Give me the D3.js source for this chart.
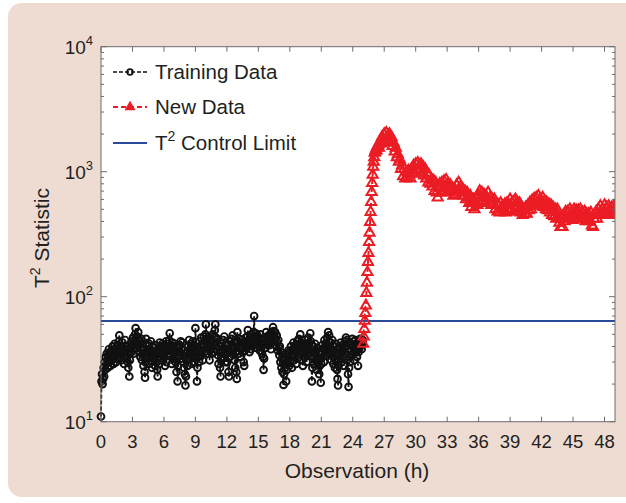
<!DOCTYPE html>
<html>
<head>
<meta charset="utf-8">
<script src="https://cdn.jsdelivr.net/npm/d3@7"></script>
<style>
body { margin: 0; background: #fff; }
text { font-family: "Liberation Sans", Arial, sans-serif; fill: #231f20; }
</style>
</head>
<body>
<div id="main"></div>
<script>
///////////
// DATA  //
///////////

// training data, one value every 0.05 h from 0 h (one row = half an hour)
const trainStart = 0
const trainStep = 0.05
const trainValues = [
	11, 21, 24, 20, 22, 27, 23, 30, 26, 33,
	29, 35, 31, 27, 34, 38, 30, 36, 28, 33,
	37, 31, 40, 34, 29, 36, 42, 33, 38, 30,
	35, 41, 32, 38, 44, 49, 39, 34, 40, 31,
	36, 43, 33, 39, 29, 37, 45, 34, 40, 32,
	38, 30, 27, 35, 23, 31, 39, 42, 36, 44,
	40, 47, 35, 43, 38, 50, 56, 44, 39, 48,
	41, 52, 45, 36, 42, 33, 39, 46, 31, 37,
	34, 28, 38, 25, 22.5, 30, 46, 36, 41, 33,
	38, 29, 42, 35, 31, 44, 37, 27, 40, 34,
	39, 32, 36, 28, 41, 35, 30, 26, 23, 33,
	37, 29, 43, 35, 40, 31, 38, 42, 34, 39,
	33, 41, 28, 36, 44, 30, 39, 35, 42, 37,
	45, 51, 40, 34, 38, 29, 43, 36, 32, 40,
	35, 42, 30, 37, 25, 33, 21, 28, 39, 34,
	41, 36, 44, 32, 38, 43, 30, 37, 27, 33,
	24, 19.5, 23, 31, 36, 28, 40, 34, 45, 38,
	32, 42, 36, 29, 39, 44, 33, 41, 30, 37,
	56, 43, 35, 21, 27, 33, 38, 30, 44, 36,
	40, 47, 34, 39, 31, 42, 48, 36, 44, 50,
	60, 46, 39, 43, 35, 48, 41, 31, 37, 45,
	39, 35, 44, 50, 42, 36, 48, 54, 60, 47,
	43, 38, 46, 34, 29, 40, 36, 27, 23, 31,
	37, 42, 33, 45, 39, 48, 35, 41, 30, 38,
	35, 30, 41, 25, 23, 33, 39, 44, 36, 46,
	40, 49, 38, 34, 43, 31, 27, 36, 25, 22,
	52, 44, 39, 35, 46, 41, 33, 38, 45, 40,
	36, 43, 30, 28, 37, 42, 47, 39, 44, 48,
	54, 45, 40, 36, 47, 42, 38, 50, 44, 41,
	46, 52, 70, 48, 43, 51, 39, 45, 49, 42,
	47, 40, 44, 37, 50, 42, 46, 35, 41, 33,
	26, 32, 43, 47, 39, 52, 44, 48, 41, 46,
	42, 49, 45, 51, 38, 47, 43, 50, 57, 53,
	48, 44, 52, 46, 40, 49, 43, 37, 45, 39,
	34, 40, 30, 36, 27, 32, 25, 29, 19.7, 24,
	31, 27, 35, 21, 26, 33, 29, 37, 32, 28,
	36, 30, 40, 33, 27, 38, 35, 43, 31, 39,
	34, 41, 29, 37, 44, 32, 39, 46, 36, 42,
	50, 43, 37, 31, 40, 28, 35, 42, 33, 39,
	45, 36, 30, 41, 34, 47, 38, 43, 35, 51,
	44, 38, 21, 27, 33, 40, 29, 36, 42, 31,
	37, 26, 33, 39, 30, 35, 24, 28, 32, 20.5,
	29, 35, 41, 33, 38, 30, 45, 37, 42, 34,
	40, 47, 36, 52, 44, 49, 39, 35, 43, 31,
	38, 45, 33, 29, 40, 36, 27, 34, 42, 31,
	26, 22, 19.5, 28, 35, 39, 32, 43, 37, 30,
	36, 41, 33, 28, 39, 44, 35, 47, 40, 45,
	38, 24, 19, 27, 33, 30, 37, 42, 34, 46,
	40, 35, 44, 31, 38, 45, 36, 42, 33, 39,
	28, 36, 43, 39, 46, 41, 44, 38, 42, 45
]

// new data, the fast rise: one value every 0.05 h from 25 h
const riseStart = 25
const riseStep = 0.05
const riseValues = [
	42, 48, 55, 64, 74, 85, 107, 129, 157, 189,
	223, 273, 324, 395, 476, 572, 688, 811, 942, 1092,
	1200, 1300, 1413, 1450, 1500, 1480, 1550, 1600, 1580, 1650
]

// new data after the rise: one value every 0.1 h from 26.5 h
const newStart = 26.5
const newStep = 0.1
const newValues = [
	1550, 1750, 1680, 1900, 1720, 2000, 1800, 2050, 1880, 1950,
	2000, 1750, 1880, 1600, 1700, 1450, 1550, 1300, 1380, 1200,
	1250, 1050, 1120, 920, 1050, 880, 1000, 900, 1020, 950,
	880, 1050, 960, 1120, 980, 1150, 1020, 1180, 1050, 1120,
	1150, 980, 1100, 930, 1050, 880, 960, 820, 930, 800,
	870, 760, 850, 700, 820, 680, 620, 740, 800, 680,
	820, 700, 840, 730, 860, 760, 800, 680, 780, 700,
	740, 640, 720, 660, 780, 700, 820, 720, 760, 680,
	720, 640, 700, 600, 680, 620, 560, 640, 520, 580,
	600, 500, 560, 620, 540, 650, 700, 620, 680, 580,
	660, 570, 640, 590, 680, 560, 620, 540, 600, 560,
	600, 500, 560, 480, 540, 470, 560, 500, 530, 480,
	550, 470, 560, 490, 540, 600, 500, 570, 480, 580,
	600, 500, 570, 480, 560, 470, 520, 450, 500, 460,
	520, 460, 540, 490, 570, 500, 590, 530, 610, 540,
	620, 550, 640, 570, 600, 530, 620, 520, 580, 500,
	570, 490, 550, 470, 540, 450, 520, 440, 500, 420,
	500, 430, 390, 360, 420, 360, 450, 400, 480, 430,
	480, 420, 500, 440, 480, 410, 500, 430, 490, 420,
	490, 430, 500, 440, 470, 420, 480, 400, 460, 410,
	460, 400, 470, 370, 360, 420, 450, 480, 420, 500,
	460, 530, 470, 500, 450, 540, 470, 520, 460, 530,
	500, 450, 520, 470, 530, 460, 510, 540, 470, 520,
	500
]

const controlLimit = 64

const xTicks = d3.range(0, 49, 3)
const yDecades = [10, 100, 1000, 10000]
const legendLabels = ["Training Data", "New Data", "Control Limit"]

///////////
// SETUP //
///////////

const width = 626
const height = 503

const black = '#111111'
const red = '#ec1c24'
const blue = '#2b4a9b'
const panel = '#eedcd2'
const axisGrey = '#6d6d6d'

const plot = {left: 101, right: 615, top: 46.7, bottom: 421.7}

let x = d3.scaleLinear()
	.domain([0, 49])
	.range([plot.left, plot.right])

let y = d3.scaleLog()
	.domain([10, 10000])
	.range([plot.bottom, plot.top])

let train = trainValues.map((v, i) => ({t: trainStart + i * trainStep, v: v}))
let fresh = riseValues.map((v, i) => ({t: riseStart + i * riseStep, v: v}))
	.concat(newValues.map((v, i) => ({t: newStart + i * newStep, v: v})))

let line = d3.line()
	.x(d => x(d.t))
	.y(d => y(d.v))

let svg = d3.select("#main").append("svg")
	.attr("width", width)
	.attr("height", height)

svg.append("defs").append("clipPath")
	.attr("id", "clip")
	.append("rect")
		.attr("x", plot.left - 6)
		.attr("y", plot.top)
		.attr("width", plot.right - plot.left + 6)
		.attr("height", plot.bottom - plot.top + 6)

//////////
// DRAW //
//////////

// background panel
svg.append("rect")
	.attr("x", 8).attr("y", 3)
	.attr("width", 660).attr("height", 494)
	.attr("rx", 14)
	.attr("fill", panel)

// plot area
svg.append("rect")
	.attr("x", plot.left).attr("y", plot.top)
	.attr("width", plot.right - plot.left)
	.attr("height", plot.bottom - plot.top)
	.attr("fill", "#fff")

let data = svg.append("g").attr("clip-path", "url(#clip)")

// control limit
data.append("line")
	.attr("x1", plot.left).attr("x2", plot.right)
	.attr("y1", y(controlLimit)).attr("y2", y(controlLimit))
	.attr("stroke", blue)
	.attr("stroke-width", 2)

// training data (open markers, like the original)
data.append("path")
	.datum(train)
	.attr("d", line)
	.attr("fill", "none")
	.attr("stroke", black)
	.attr("stroke-width", 1.8)
	.attr("stroke-dasharray", "4,2")

data.selectAll("circle.train")
	.data(train)
	.enter().append("circle")
		.attr("class", "train")
		.attr("cx", d => x(d.t))
		.attr("cy", d => y(d.v))
		.attr("r", 3.4)
		.attr("fill", "none")
		.attr("stroke", black)
		.attr("stroke-width", 1.9)

// new data
data.append("path")
	.datum(fresh)
	.attr("d", line)
	.attr("fill", "none")
	.attr("stroke", red)
	.attr("stroke-width", 2)
	.attr("stroke-dasharray", "5,3")

let tri = d3.symbol().type(d3.symbolTriangle).size(44)

data.selectAll("path.fresh")
	.data(fresh)
	.enter().append("path")
		.attr("class", "fresh")
		.attr("d", tri)
		.attr("transform", d => `translate(${x(d.t)},${y(d.v)})`)
		.attr("fill", "none")
		.attr("stroke", red)
		.attr("stroke-width", 2)

// frame
svg.append("rect")
	.attr("x", plot.left).attr("y", plot.top)
	.attr("width", plot.right - plot.left)
	.attr("height", plot.bottom - plot.top)
	.attr("fill", "none")
	.attr("stroke", axisGrey)
	.attr("stroke-width", 1)

// x ticks, inward on top and bottom
let ticks = svg.append("g").attr("stroke", axisGrey).attr("stroke-width", 1)
xTicks.forEach(t => {
	ticks.append("line")
		.attr("x1", x(t)).attr("x2", x(t))
		.attr("y1", plot.bottom).attr("y2", plot.bottom - 5)
	ticks.append("line")
		.attr("x1", x(t)).attr("x2", x(t))
		.attr("y1", plot.top).attr("y2", plot.top + 5)
})

// y ticks, major and minor, inward on both sides
y.ticks().forEach(v => {
	let major = yDecades.includes(v)
	let len = major ? 6 : 3
	ticks.append("line")
		.attr("x1", plot.left).attr("x2", plot.left + len)
		.attr("y1", y(v)).attr("y2", y(v))
	ticks.append("line")
		.attr("x1", plot.right).attr("x2", plot.right - len)
		.attr("y1", y(v)).attr("y2", y(v))
})

// x tick labels
svg.selectAll("text.xtick")
	.data(xTicks)
	.enter().append("text")
		.attr("class", "xtick")
		.attr("x", d => x(d))
		.attr("y", plot.bottom + 26)
		.attr("text-anchor", "middle")
		.attr("font-size", 18.5)
		.text(d => d)

// y tick labels 10^n
yDecades.forEach(v => {
	let lab = svg.append("text")
		.attr("x", plot.left - 8)
		.attr("y", y(v) + 7)
		.attr("text-anchor", "end")
		.attr("font-size", 19)
	lab.append("tspan").text("10")
	lab.append("tspan")
		.attr("dy", -9)
		.attr("font-size", 13)
		.text(Math.round(Math.log10(v)))
})

// axis labels
svg.append("text")
	.attr("x", 357)
	.attr("y", 478)
	.attr("text-anchor", "middle")
	.attr("font-size", 21)
	.text("Observation (h)")

let ylab = svg.append("text")
	.attr("transform", "translate(49,238) rotate(-90)")
	.attr("text-anchor", "middle")
	.attr("font-size", 21)
ylab.append("tspan").text("T")
ylab.append("tspan").attr("dy", -9).attr("font-size", 14).text("2")
ylab.append("tspan").attr("dy", 9).text(" Statistic")

// legend
let legend = svg.append("g")
let rows = [72, 107, 143]

legend.append("line")
	.attr("x1", 113).attr("x2", 147).attr("y1", rows[0]).attr("y2", rows[0])
	.attr("stroke", black).attr("stroke-width", 1.6).attr("stroke-dasharray", "4,2")
legend.append("circle")
	.attr("cx", 130).attr("cy", rows[0]).attr("r", 2.8)
	.attr("fill", "none").attr("stroke", black).attr("stroke-width", 1.8)

legend.append("line")
	.attr("x1", 113).attr("x2", 147).attr("y1", rows[1]).attr("y2", rows[1])
	.attr("stroke", red).attr("stroke-width", 2).attr("stroke-dasharray", "5,3")
legend.append("path")
	.attr("d", d3.symbol().type(d3.symbolTriangle).size(34))
	.attr("transform", `translate(130,${rows[1]})`)
	.attr("fill", red).attr("stroke", red).attr("stroke-width", 1.2)

legend.append("line")
	.attr("x1", 113).attr("x2", 147).attr("y1", rows[2]).attr("y2", rows[2])
	.attr("stroke", blue).attr("stroke-width", 2)

legend.append("text")
	.attr("x", 155).attr("y", rows[0] + 7).attr("font-size", 20.5)
	.text(legendLabels[0])
legend.append("text")
	.attr("x", 155).attr("y", rows[1] + 7).attr("font-size", 20.5)
	.text(legendLabels[1])
let lim = legend.append("text")
	.attr("x", 155).attr("y", rows[2] + 7).attr("font-size", 20.5)
lim.append("tspan").text("T")
lim.append("tspan").attr("dy", -9).attr("font-size", 14).text("2")
lim.append("tspan").attr("dy", 9).text(" " + legendLabels[2])
</script>
</body>
</html>
